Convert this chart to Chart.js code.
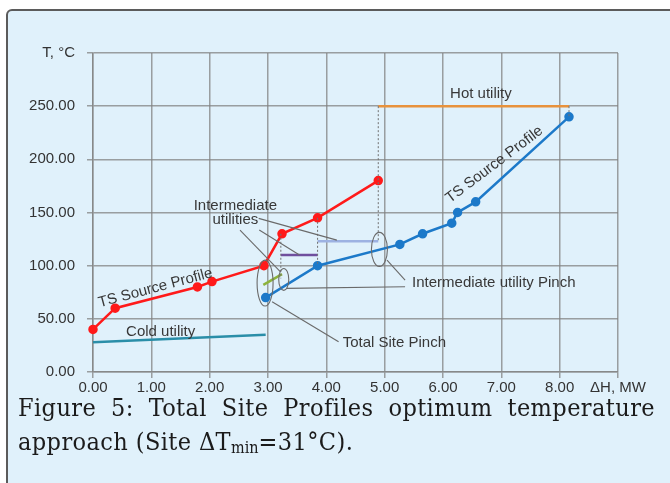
<!DOCTYPE html>
<html>
<head>
<meta charset="utf-8">
<script src="https://cdn.jsdelivr.net/npm/chart.js@4"></script>
<style>
body { margin: 0; background: #fff; width: 670px; height: 483px; overflow: hidden; position: relative; }
#frame { position: absolute; left: 6px; top: 9px; width: 700px; height: 520px; border: 2px solid #5b5b5b; border-top-left-radius: 6px; background: #e0f1fb; }
#wrap { position: absolute; left: 0; top: 0; width: 670px; height: 400px; }
#caption { position: absolute; left: 18px; top: 391px; width: 637px; font-family: "DejaVu Serif Condensed", "Liberation Serif", serif; font-size: 25px; letter-spacing: 0.4px; line-height: 34px; color: #1b1b1b; }
#caption .l1 { text-align: justify; text-align-last: justify; }
#caption sub { font-size: 16px; vertical-align: -3px; line-height: 0; letter-spacing: 0; }
</style>
</head>
<body>
<div id="frame"></div>
<div id="wrap"><canvas id="chart"></canvas></div>
<div id="caption">
  <div class="l1">Figure 5: Total Site Profiles optimum temperature</div>
  <div>approach (Site &Delta;T<sub>min</sub>=31&deg;C).</div>
</div>
<script>
// tick labels
const xTickLabels = ['0.00', '1.00', '2.00', '3.00', '4.00', '5.00', '6.00', '7.00', '8.00', 'ΔH, MW'];
const yTickLabels = ['0.00', '50.00', '100.00', '150.00', '200.00', '250.00', 'T, °C'];

// TS profiles (red = sink side, blue = source side)
const redH = [0, 0.38, 1.79, 2.04, 2.93, 3.24, 3.85, 4.89];
const redT = [40, 60, 80, 85, 100, 130, 145, 180];
const blueH = [2.96, 3.85, 5.26, 5.65, 6.15, 6.25, 6.56, 8.16];
const blueT = [70, 100, 120, 130, 140, 150, 160, 240];

// utilities
const hotH = [4.89, 8.16];
const hotT = [250, 250];
const coldH = [0, 2.96];
const coldT = [28, 35];
const interAH = [3.85, 4.89];
const interAT = [123, 123];
const interBH = [3.22, 3.85];
const interBT = [110, 110];
const interCH = [2.92, 3.24];
const interCT = [82, 92];

// dotted guide lines: H, T from, T to
const guideH = [3.22, 3.85, 4.89, 8.16];
const guideTop = [130, 145, 250, 250];
const guideBottom = [88, 100, 123, 240];

function pts(xs, ys) {
    return xs.map(function(v, i) { return { x: v, y: ys[i] }; });
}

function seg(xs, ys, color, width, dash) {
    return {
        data: pts(xs, ys),
        showLine: true,
        clip: false,
        borderColor: color,
        backgroundColor: color,
        borderWidth: width,
        borderDash: dash || [],
        pointRadius: 0,
        tension: 0
    };
}

const datasets = [];
guideH.forEach(function(h, i) {
    datasets.push(seg([h, h], [guideTop[i], guideBottom[i]], '#707070', 1, [2, 2]));
});
datasets.push(seg(coldH, coldT, '#2a8ea8', 2.5));
datasets.push(seg(hotH, hotT, '#e8923c', 2.5));
datasets.push(seg(interAH, interAT, '#9db2e2', 2.5));
datasets.push(seg(interBH, interBT, '#6f4f9e', 2.5));
datasets.push(seg(interCH, interCT, '#8cb33c', 2.5));

const red = seg(redH, redT, '#ff1a1a', 2.5);
red.pointRadius = 3.5;
datasets.push(red);
const blue = seg(blueH, blueT, '#1c79c9', 2.5);
blue.pointRadius = 3.5;
datasets.push(blue);

// leader lines, ellipses and labels
const notes = {
    id: 'notes',
    afterDatasetsDraw: function(chart) {
        const ctx = chart.ctx;
        const sx = chart.scales.x, sy = chart.scales.y;
        const px = function(v) { return sx.getPixelForValue(v); };
        const py = function(v) { return sy.getPixelForValue(v); };
        ctx.save();
        ctx.strokeStyle = '#6a6a6a';
        ctx.lineWidth = 1.1;

        function line(x1, y1, x2, y2) {
            ctx.beginPath();
            ctx.moveTo(px(x1), py(y1));
            ctx.lineTo(px(x2), py(y2));
            ctx.stroke();
        }
        function ell(cx, cy, rx, ry) {
            ctx.beginPath();
            ctx.ellipse(px(cx), py(cy), Math.abs(px(cx + rx) - px(cx)), Math.abs(py(cy + ry) - py(cy)), 0, 0, Math.PI * 2);
            ctx.stroke();
        }
        function text(s, x, y, align, angle) {
            ctx.save();
            ctx.translate(px(x), py(y));
            ctx.rotate((angle || 0) * Math.PI / 180);
            ctx.textAlign = align || 'center';
            ctx.textBaseline = 'middle';
            ctx.fillText(s, 0, 0);
            ctx.restore();
        }

        ell(2.95, 83.6, 0.137, 21.6);
        ell(3.27, 87.1, 0.086, 10.3);
        ell(4.91, 115.3, 0.137, 16);

        line(2.84, 144.5, 4.18, 124);
        line(2.85, 133.5, 3.54, 110);
        line(2.52, 133.5, 3.21, 94.3);
        line(3.32, 78.6, 5.35, 80.2);
        line(5.04, 105.3, 5.35, 86.5);
        line(3.07, 66.1, 4.21, 28.5);

        ctx.fillStyle = '#383838';
        ctx.font = '15px "Liberation Sans", Arial, sans-serif';
        text('Intermediate', 2.44, 156);
        text('utilities', 2.44, 143);
        text('Intermediate utility Pinch', 5.47, 83.4, 'left');
        text('Total Site Pinch', 4.28, 27, 'left');
        text('Hot utility', 6.65, 262);
        text('Cold utility', 1.16, 38);
        text('TS Source Profile', 1.07, 79, 'center', -15);
        text('TS Source Profile', 6.88, 195, 'center', -37);
        ctx.restore();
    }
};

const gridColor = 'rgba(130,130,130,0.75)';

new Chart(document.getElementById('chart'), {
    type: 'scatter',
    data: { datasets: datasets },
    options: {
        responsive: true,
        maintainAspectRatio: false,
        animation: false,
        layout: { padding: { top: 53, right: 52, left: 0, bottom: 0 } },
        plugins: { legend: { display: false }, tooltip: { enabled: false } },
        scales: {
            x: {
                type: 'linear',
                min: 0,
                max: 9,
                afterFit: function(scale) { scale.height = 28; },
                ticks: {
                    stepSize: 1,
                    padding: 1,
                    autoSkip: false,
                    color: '#333',
                    font: { family: '"Liberation Sans", Arial, sans-serif', size: 15 },
                    maxRotation: 0,
                    callback: function(v, i) { return xTickLabels[i]; }
                },
                grid: { color: gridColor, lineWidth: 1.5, tickLength: 6 },
                border: { color: gridColor, width: 1.5 }
            },
            y: {
                type: 'linear',
                min: 0,
                max: 300,
                afterFit: function(scale) { scale.width = 93; },
                ticks: {
                    stepSize: 50,
                    padding: 12,
                    autoSkip: false,
                    color: '#333',
                    font: { family: '"Liberation Sans", Arial, sans-serif', size: 15 },
                    callback: function(v, i) { return yTickLabels[i]; }
                },
                grid: { color: gridColor, lineWidth: 1.5, tickLength: 6 },
                border: { color: gridColor, width: 1.5 }
            }
        }
    },
    plugins: [notes]
});
</script>
</body>
</html>
